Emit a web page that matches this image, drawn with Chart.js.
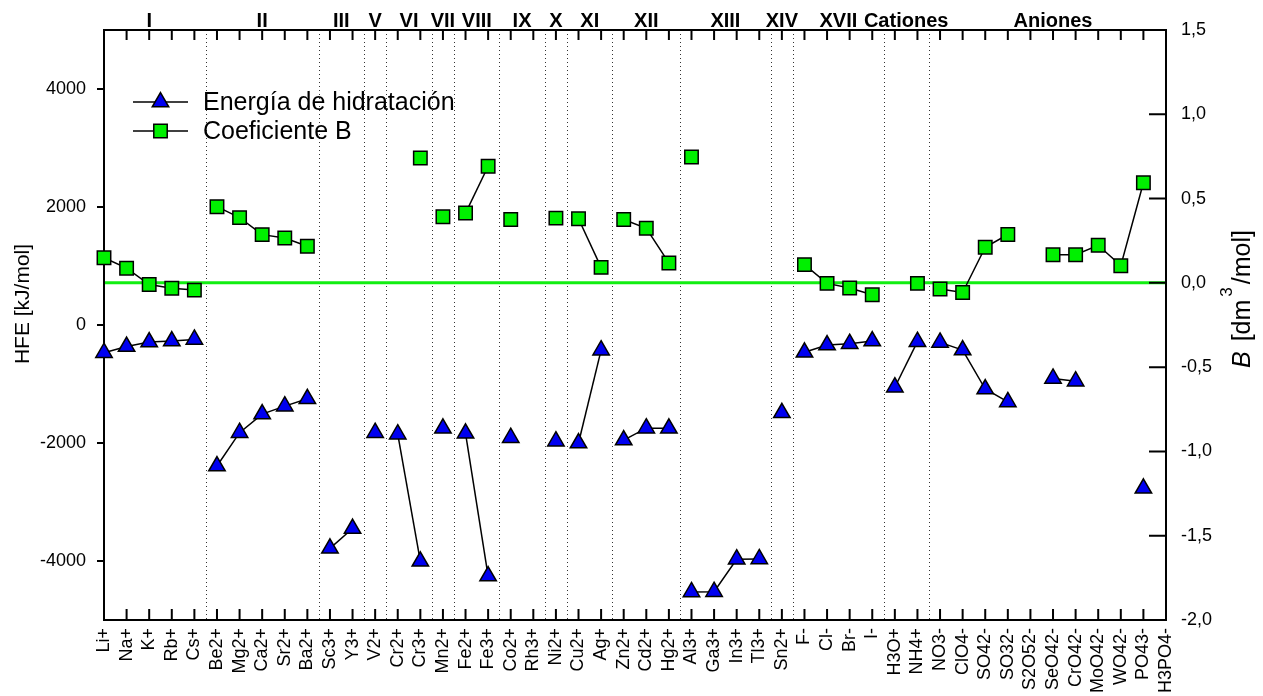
<!DOCTYPE html>
<html>
<head>
<meta charset="utf-8">
<script src="https://cdn.jsdelivr.net/npm/chart.js@4.4.0/dist/chart.umd.min.js"></script>
<style>
  html, body { margin: 0; padding: 0; background: #fff; }
</style>
</head>
<body>
<canvas id="chart" width="1263" height="696"></canvas>
<script>
// Ions along the x axis
const ions = ['Li+', 'Na+', 'K+', 'Rb+', 'Cs+', 'Be2+', 'Mg2+', 'Ca2+', 'Sr2+', 'Ba2+',
    'Sc3+', 'Y3+', 'V2+', 'Cr2+', 'Cr3+', 'Mn2+', 'Fe2+', 'Fe3+', 'Co2+', 'Rh3+',
    'Ni2+', 'Cu2+', 'Ag+', 'Zn2+', 'Cd2+', 'Hg2+', 'Al3+', 'Ga3+', 'In3+', 'Tl3+',
    'Sn2+', 'F-', 'Cl-', 'Br-', 'I-', 'H3O+', 'NH4+', 'NO3-', 'ClO4-', 'SO42-',
    'SO32-', 'S2O52-', 'SeO42-', 'CrO42-', 'MoO42-', 'WO42-', 'PO43-', 'H3PO4-'];

// Hydration free energy (kJ/mol), null = no value
const hfe = [-470, -365, -290, -272, -245, -2390, -1825, -1510, -1375, -1250,
    -3785, -3450, -1825, -1850, -4005, -1750, -1835, -4255, -1910, null,
    -1970, -2000, -427, -1950, -1748, -1750, -4525, -4520, -3970, -3965,
    -1488, -463, -340, -317, -273, -1055, -283, -295, -425, -1085,
    -1303, null, -905, -953, null, null, -2768, null];

// Viscosity B coefficient (dm3/mol)
const bCoef = [0.149, 0.087, -0.010, -0.032, -0.043, 0.452, 0.387, 0.286, 0.266, 0.217,
    null, null, null, null, 0.741, 0.392, 0.414, 0.692, 0.376, null,
    0.384, 0.380, 0.092, 0.376, 0.324, 0.118, 0.747, null, null, null,
    null, 0.108, -0.003, -0.031, -0.071, null, -0.003, -0.036, -0.057, 0.211,
    0.287, null, 0.167, 0.167, 0.223, 0.102, 0.594, null];

// Groups written along the top, with their first and last ion index
const groupNames = ['I', 'II', 'III', 'V', 'VI', 'VII', 'VIII', 'IX', 'X', 'XI',
    'XII', 'XIII', 'XIV', 'XVII', 'Cationes', 'Aniones'];
const groupFirst = [0, 5, 10, 12, 13, 15, 16, 18, 20, 21, 23, 26, 30, 31, 35, 37];
const groupLast = [4, 9, 11, 12, 14, 15, 17, 19, 20, 22, 25, 29, 30, 34, 36, 47];

const hfeTicks = [-4000, -2000, 0, 2000, 4000];
const bTicks = [-2.0, -1.5, -1.0, -0.5, 0.0, 0.5, 1.0, 1.5];

const FONT = "'Liberation Sans', Arial, sans-serif";
Chart.defaults.font.family = FONT;
Chart.defaults.color = '#000';

function groupOf(i) {
    return groupFirst.findIndex((f, g) => i >= f && i <= groupLast[g]);
}

// only join points that belong to the same group
const joinInGroup = ctx =>
    groupOf(ctx.p0DataIndex) === groupOf(ctx.p1DataIndex) ? '#000' : 'rgba(0,0,0,0)';

const decorations = {
    id: 'decorations',
    beforeDatasetsDraw(chart) {
        const { ctx, chartArea: a, scales } = chart;
        const x = scales.x;
        ctx.save();

        // dotted group separators
        ctx.strokeStyle = '#333';
        ctx.lineWidth = 1;
        ctx.setLineDash([1, 3]);
        for (let g = 1; g < groupFirst.length; g++) {
            const px = Math.round(x.getPixelForValue(groupFirst[g] - 0.5)) + 0.5;
            ctx.beginPath();
            ctx.moveTo(px, a.top);
            ctx.lineTo(px, a.bottom);
            ctx.stroke();
        }
        ctx.setLineDash([]);

        // B = 0 line
        const y0 = scales.y1.getPixelForValue(0);
        ctx.strokeStyle = '#11ee11';
        ctx.lineWidth = 3;
        ctx.beginPath();
        ctx.moveTo(a.left, y0);
        ctx.lineTo(a.right, y0);
        ctx.stroke();

        // frame
        ctx.strokeStyle = '#000';
        ctx.lineWidth = 2;
        ctx.strokeRect(a.left, a.top, a.right - a.left, a.bottom - a.top);

        // tick marks
        ctx.beginPath();
        ions.forEach((_, i) => {
            const px = x.getPixelForValue(i);
            ctx.moveTo(px, a.bottom); ctx.lineTo(px, a.bottom - 11);
            ctx.moveTo(px, a.top); ctx.lineTo(px, a.top + 10);
        });
        hfeTicks.forEach(v => {
            const py = scales.y.getPixelForValue(v);
            ctx.moveTo(a.left, py); ctx.lineTo(a.left - 7, py);
        });
        bTicks.forEach(v => {
            const py = scales.y1.getPixelForValue(v);
            ctx.moveTo(a.right, py); ctx.lineTo(a.right - 17, py);
        });
        ctx.stroke();
        ctx.restore();
    },
    afterDraw(chart) {
        const { ctx, chartArea: a, scales } = chart;
        const x = scales.x;
        ctx.save();
        ctx.fillStyle = '#000';

        // group names above the plot
        ctx.font = 'bold 20px ' + FONT;
        ctx.textAlign = 'center';
        ctx.textBaseline = 'alphabetic';
        groupNames.forEach((name, g) => {
            const px = x.getPixelForValue((groupFirst[g] + groupLast[g]) / 2);
            ctx.fillText(name, px, a.top - 3);
        });

        // left axis title
        ctx.font = '21px ' + FONT;
        ctx.save();
        ctx.translate(23, 304);
        ctx.rotate(-Math.PI / 2);
        ctx.textBaseline = 'middle';
        ctx.fillText('HFE [kJ/mol]', 0, 0);
        ctx.restore();

        // right axis title: B [dm3/mol]
        ctx.save();
        ctx.translate(1250, 368);
        ctx.rotate(-Math.PI / 2);
        ctx.textAlign = 'left';
        ctx.textBaseline = 'alphabetic';
        let cx = 0;
        ctx.font = 'italic 25px ' + FONT;
        ctx.fillText('B', cx, 0);
        cx += ctx.measureText('B').width + 10;
        ctx.font = '25px ' + FONT;
        ctx.fillText('[dm', cx, 0);
        cx += ctx.measureText('[dm').width + 3;
        ctx.font = '17px ' + FONT;
        ctx.fillText('3', cx, -18);
        cx += ctx.measureText('3').width + 3;
        ctx.font = '25px ' + FONT;
        ctx.fillText('/mol]', cx, 0);
        ctx.restore();

        // legend
        const items = chart.data.datasets;
        ctx.font = '25px ' + FONT;
        ctx.textAlign = 'left';
        ctx.textBaseline = 'middle';
        items.forEach((ds, k) => {
            const ly = 102 + k * 29;
            ctx.strokeStyle = '#000';
            ctx.lineWidth = 1.5;
            ctx.beginPath();
            ctx.moveTo(133, ly);
            ctx.lineTo(188, ly);
            ctx.stroke();
            ctx.fillStyle = ds.pointBackgroundColor;
            ctx.strokeStyle = '#000';
            ctx.lineWidth = ds.pointBorderWidth;
            Chart.helpers.drawPoint(ctx, {
                pointStyle: ds.pointStyle, radius: ds.pointRadius,
                borderWidth: ds.pointBorderWidth, rotation: 0
            }, 160.5, ly);
            ctx.fillStyle = '#000';
            ctx.fillText(ds.label, 203, ly + 1);
        });
        ctx.restore();
    }
};

new Chart(document.getElementById('chart'), {
    type: 'line',
    data: {
        labels: ions,
        datasets: [{
            label: 'Energía de hidratación',
            data: hfe,
            yAxisID: 'y',
            borderColor: '#000',
            borderWidth: 1.5,
            pointStyle: 'triangle',
            pointRadius: 9.5,
            pointBackgroundColor: '#0000f0',
            pointBorderColor: '#000',
            pointBorderWidth: 1.5,
            spanGaps: false,
            segment: { borderColor: joinInGroup }
        }, {
            label: 'Coeficiente B',
            data: bCoef,
            yAxisID: 'y1',
            borderColor: '#000',
            borderWidth: 1.5,
            pointStyle: 'rect',
            pointRadius: 9.5,
            pointBackgroundColor: '#00f000',
            pointBorderColor: '#000',
            pointBorderWidth: 1.5,
            spanGaps: false,
            segment: { borderColor: joinInGroup }
        }]
    },
    options: {
        responsive: false,
        animation: false,
        layout: { padding: { top: 30, left: 0, right: 0, bottom: 0 } },
        plugins: {
            legend: { display: false },
            tooltip: { enabled: false }
        },
        scales: {
            x: {
                type: 'category',
                offset: false,
                grid: { display: false, drawTicks: false },
                border: { display: false },
                ticks: {
                    autoSkip: false,
                    maxRotation: 90,
                    minRotation: 90,
                    padding: 8,
                    font: { size: 18 }
                },
                afterFit: s => { s.height = 76; }
            },
            y: {
                position: 'left',
                min: -5000,
                max: 5000,
                grid: { display: false, drawTicks: false },
                border: { display: false },
                afterBuildTicks: s => { s.ticks = hfeTicks.map(v => ({ value: v })); },
                ticks: {
                    padding: 18,
                    font: { size: 18 },
                    callback: v => String(v)
                },
                afterFit: s => { s.width = 104; }
            },
            y1: {
                position: 'right',
                min: -2,
                max: 1.5,
                grid: { display: false, drawTicks: false },
                border: { display: false },
                afterBuildTicks: s => { s.ticks = bTicks.map(v => ({ value: v })); },
                ticks: {
                    padding: 15,
                    font: { size: 18 },
                    callback: v => v.toFixed(1).replace('.', ',')
                },
                afterFit: s => { s.width = 97; }
            }
        }
    },
    plugins: [decorations]
});
</script>
</body>
</html>
